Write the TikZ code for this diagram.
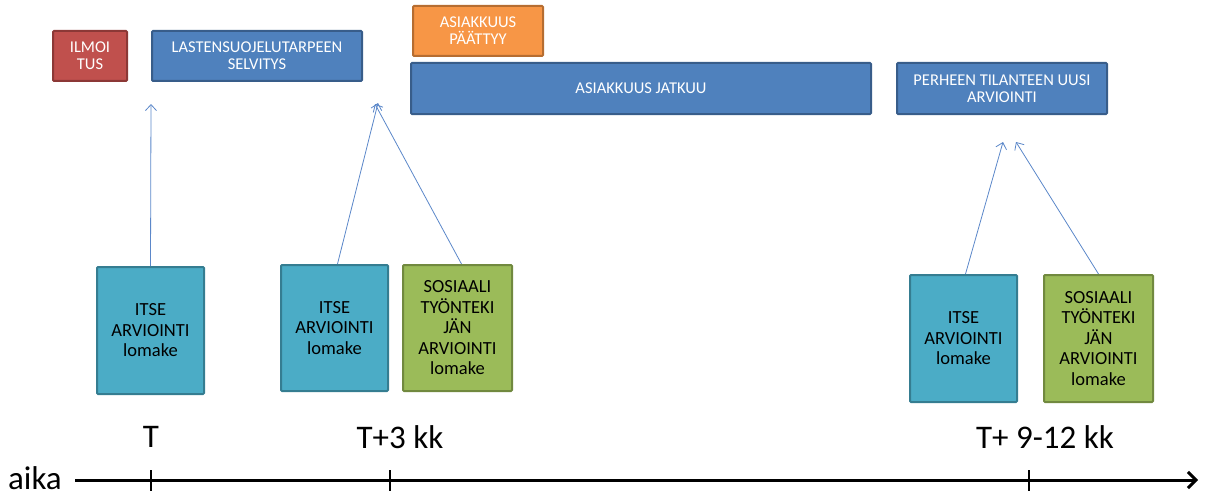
\documentclass[tikz,border=0pt]{standalone}
\usepackage{fontspec}
\setmainfont{Carlito}
\usetikzlibrary{arrows.meta}
\definecolor{redf}{HTML}{C0504D}\definecolor{redd}{HTML}{8C3836}
\definecolor{bluef}{HTML}{4F81BD}\definecolor{blued}{HTML}{385D8A}
\definecolor{orf}{HTML}{F79646}\definecolor{ord}{HTML}{B66D31}
\definecolor{tealf}{HTML}{4BACC6}\definecolor{teald}{HTML}{357D91}
\definecolor{grf}{HTML}{9BBB59}\definecolor{grd}{HTML}{71893F}
\definecolor{arr}{HTML}{5B87C9}
\tikzset{
  box/.style={draw, line width=2pt, rounded corners=1pt, inner sep=0pt, align=center},
  topbox/.style={box, text=white, font=\fontsize{16.5}{17}\selectfont},
  lowbox/.style={box, text=black, font=\fontsize{18.5}{20.5}\selectfont},
  link/.style={draw=arr, line width=0.8pt, -{Straight Barb[length=6pt,width=11pt]}},
  tl/.style={font=\fontsize{33}{33}\selectfont, inner sep=0pt}
}
\begin{document}
\begin{tikzpicture}[x=1pt,y=-1pt]
\useasboundingbox (0,0) rectangle (1208,495);
% top boxes
\node[topbox, fill=redf, draw=redd, minimum width=74pt, minimum height=50pt] (ilm) at (90,56) {ILMOI\\TUS};
\node[topbox, fill=bluef, draw=blued, minimum width=210pt, minimum height=50pt] (las) at (257,56) {LASTENSUOJELUTARPEEN\\SELVITYS};
\node[topbox, fill=orf, draw=ord, minimum width=130pt, minimum height=50pt] (pat) at (478,31) {ASIAKKUUS\\PÄÄTTYY};
\node[topbox, fill=bluef, draw=blued, minimum width=460pt, minimum height=51pt] (jat) at (641,88.5) {ASIAKKUUS JATKUU};
\node[topbox, fill=bluef, draw=blued, minimum width=210pt, minimum height=51pt] (per) at (1002,88.5) {PERHEEN TILANTEEN UUSI\\ARVIOINTI};
% lower boxes
\node[lowbox, fill=tealf, draw=teald, minimum width=107pt, minimum height=127pt] (i1) at (150.5,330.5) {ITSE\\ARVIOINTI\\lomake};
\node[lowbox, fill=tealf, draw=teald, minimum width=107pt, minimum height=126pt] (i2) at (334.5,328) {ITSE\\ARVIOINTI\\lomake};
\node[lowbox, fill=grf, draw=grd, minimum width=109pt, minimum height=126pt] (s2) at (457.5,328) {SOSIAALI\\TYÖNTEKI\\JÄN\\ARVIOINTI\\lomake};
\node[lowbox, fill=tealf, draw=teald, minimum width=107pt, minimum height=127pt] (i3) at (963.5,338.5) {ITSE\\ARVIOINTI\\lomake};
\node[lowbox, fill=grf, draw=grd, minimum width=109pt, minimum height=127pt] (s3) at (1098.5,338.5) {SOSIAALI\\TYÖNTEKI\\JÄN\\ARVIOINTI\\lomake};
% arrow targets
\coordinate (a1) at (151,104);
\coordinate (a2) at (378,103);
\coordinate (a3) at (375,104);
\coordinate (a4) at (1003,142);
\coordinate (a5) at (1016,142);
\draw[link] (i1.north) -- (a1);
\draw[link] (i2.north) ++(3,0) -- (a2);
\draw[link] (s2.north) ++(4,0) -- (a3);
\draw[link] (i3.north) ++(2,0) -- (a4);
\draw[link] (s3.north) -- (a5);
% timeline
\coordinate (t0) at (75,480);
\coordinate (t1) at (1198,480);
\draw[line width=3pt, -{Straight Barb[length=8pt,width=16pt,line width=3pt]}] (t0) -- (t1);
\foreach \x in {151,390,1029}{
  \draw[line width=2pt] (\x,470) -- (\x,491);
}
\node[tl, anchor=base east] (aika) at (62,489) {aika};
\node[tl] (lT) at (151,437) {T};
\node[tl] (l3) at (400,437) {T+3 kk};
\node[tl] (l9) at (1045,437) {T+ 9-12 kk};
\end{tikzpicture}
\end{document}
